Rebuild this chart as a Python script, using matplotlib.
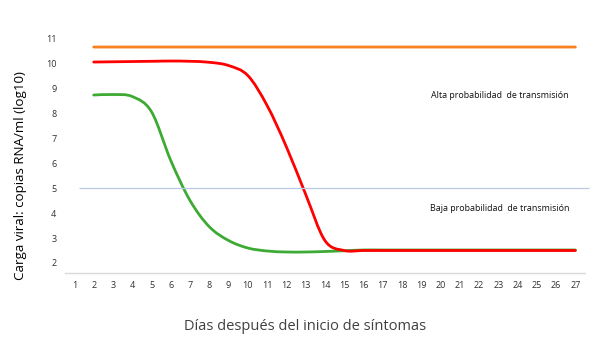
#!/usr/bin/env python3
# -*- coding: UTF-8 -*-
"""
Carga viral vs. dias desde el inicio de sintomas.
"""
import numpy as np
from matplotlib import pyplot as plt
from matplotlib.path import Path
from matplotlib.patches import PathPatch

days = list(range(2, 28))
tick_days = list(range(1, 28))
y_ticks = list(range(2, 12))

orange_vals = [10.64] * 26
red_vals = [10.04, 10.05, 10.06, 10.07, 10.08, 10.07, 10.03, 9.9, 9.5, 8.3,
            6.65, 4.75, 2.9, 2.5] + [2.5] * 12
green_vals = [8.72, 8.74, 8.66, 8.05, 6.1, 4.5, 3.45, 2.9, 2.6, 2.48, 2.44,
              2.44, 2.46, 2.49, 2.52] + [2.52] * 11

threshold = 5.0
label_alta = 'Alta probabilidad  de transmisión'
label_baja = 'Baja probabilidad  de transmisión'


def smooth_line(ax, x, y, color, lw):
    """Draw a smoothed (Excel style) line as bezier segments through the points."""
    pts = np.column_stack([x, y]).astype(float)
    verts = [pts[0]]
    codes = [Path.MOVETO]
    n = len(pts)
    for i in range(n - 1):
        p0 = pts[i - 1] if i > 0 else pts[i]
        p1 = pts[i]
        p2 = pts[i + 1]
        p3 = pts[i + 2] if i + 2 < n else pts[i + 1]
        c1 = p1 + (p2 - p0) / 6.0
        c2 = p2 - (p3 - p1) / 6.0
        verts += [c1, c2, p2]
        codes += [Path.CURVE4] * 3
    patch = PathPatch(Path(verts, codes), facecolor='none', edgecolor=color,
                      lw=lw, capstyle='round', joinstyle='round')
    ax.add_patch(patch)


plt.rcParams['font.family'] = ['Open Sans', 'DejaVu Sans']

fig = plt.figure(figsize=(6, 3.55), dpi=100)
ax = fig.add_axes([0.108, 0.231, 0.867, 0.690])

ax.hlines(threshold, 1.25, 27.7, color='#B9CBE4', lw=0.9, clip_on=False)

smooth_line(ax, days, orange_vals, '#F7801F', 2.0)
smooth_line(ax, days, green_vals, '#3DAA34', 2.0)
smooth_line(ax, days, red_vals, '#FF0000', 2.0)

ax.set_xlim(0.5, 27.5)
ax.set_ylim(1.6, 11.4)
ax.set_xticks(tick_days)
ax.set_xticklabels([str(d) for d in tick_days], fontsize=6.5, color='#303030')
ax.set_yticks(y_ticks)
ax.set_yticklabels([str(v) for v in y_ticks], fontsize=6.5, color='#303030')
ax.tick_params(length=0, pad=6)

for side in ['top', 'right', 'left']:
    ax.spines[side].set_visible(False)
ax.spines['bottom'].set_color('#D9D9D9')
ax.spines['bottom'].set_linewidth(1.0)

ax.text(23.1, 8.72, label_alta, fontsize=6.4, ha='center', va='center', color='#101010')
ax.text(23.1, 4.2, label_baja, fontsize=6.4, ha='center', va='center', color='#101010')

fig.text(0.508, 0.079, 'Días después del inicio de síntomas', fontsize=10.5,
         ha='center', va='center', color='#404040')
fig.text(0.034, 0.505, 'Carga viral: copias RNA/ml (log10)', fontsize=9.6,
         ha='center', va='center', rotation=90, color='#000000')

fig.savefig('out.png', dpi=100)
